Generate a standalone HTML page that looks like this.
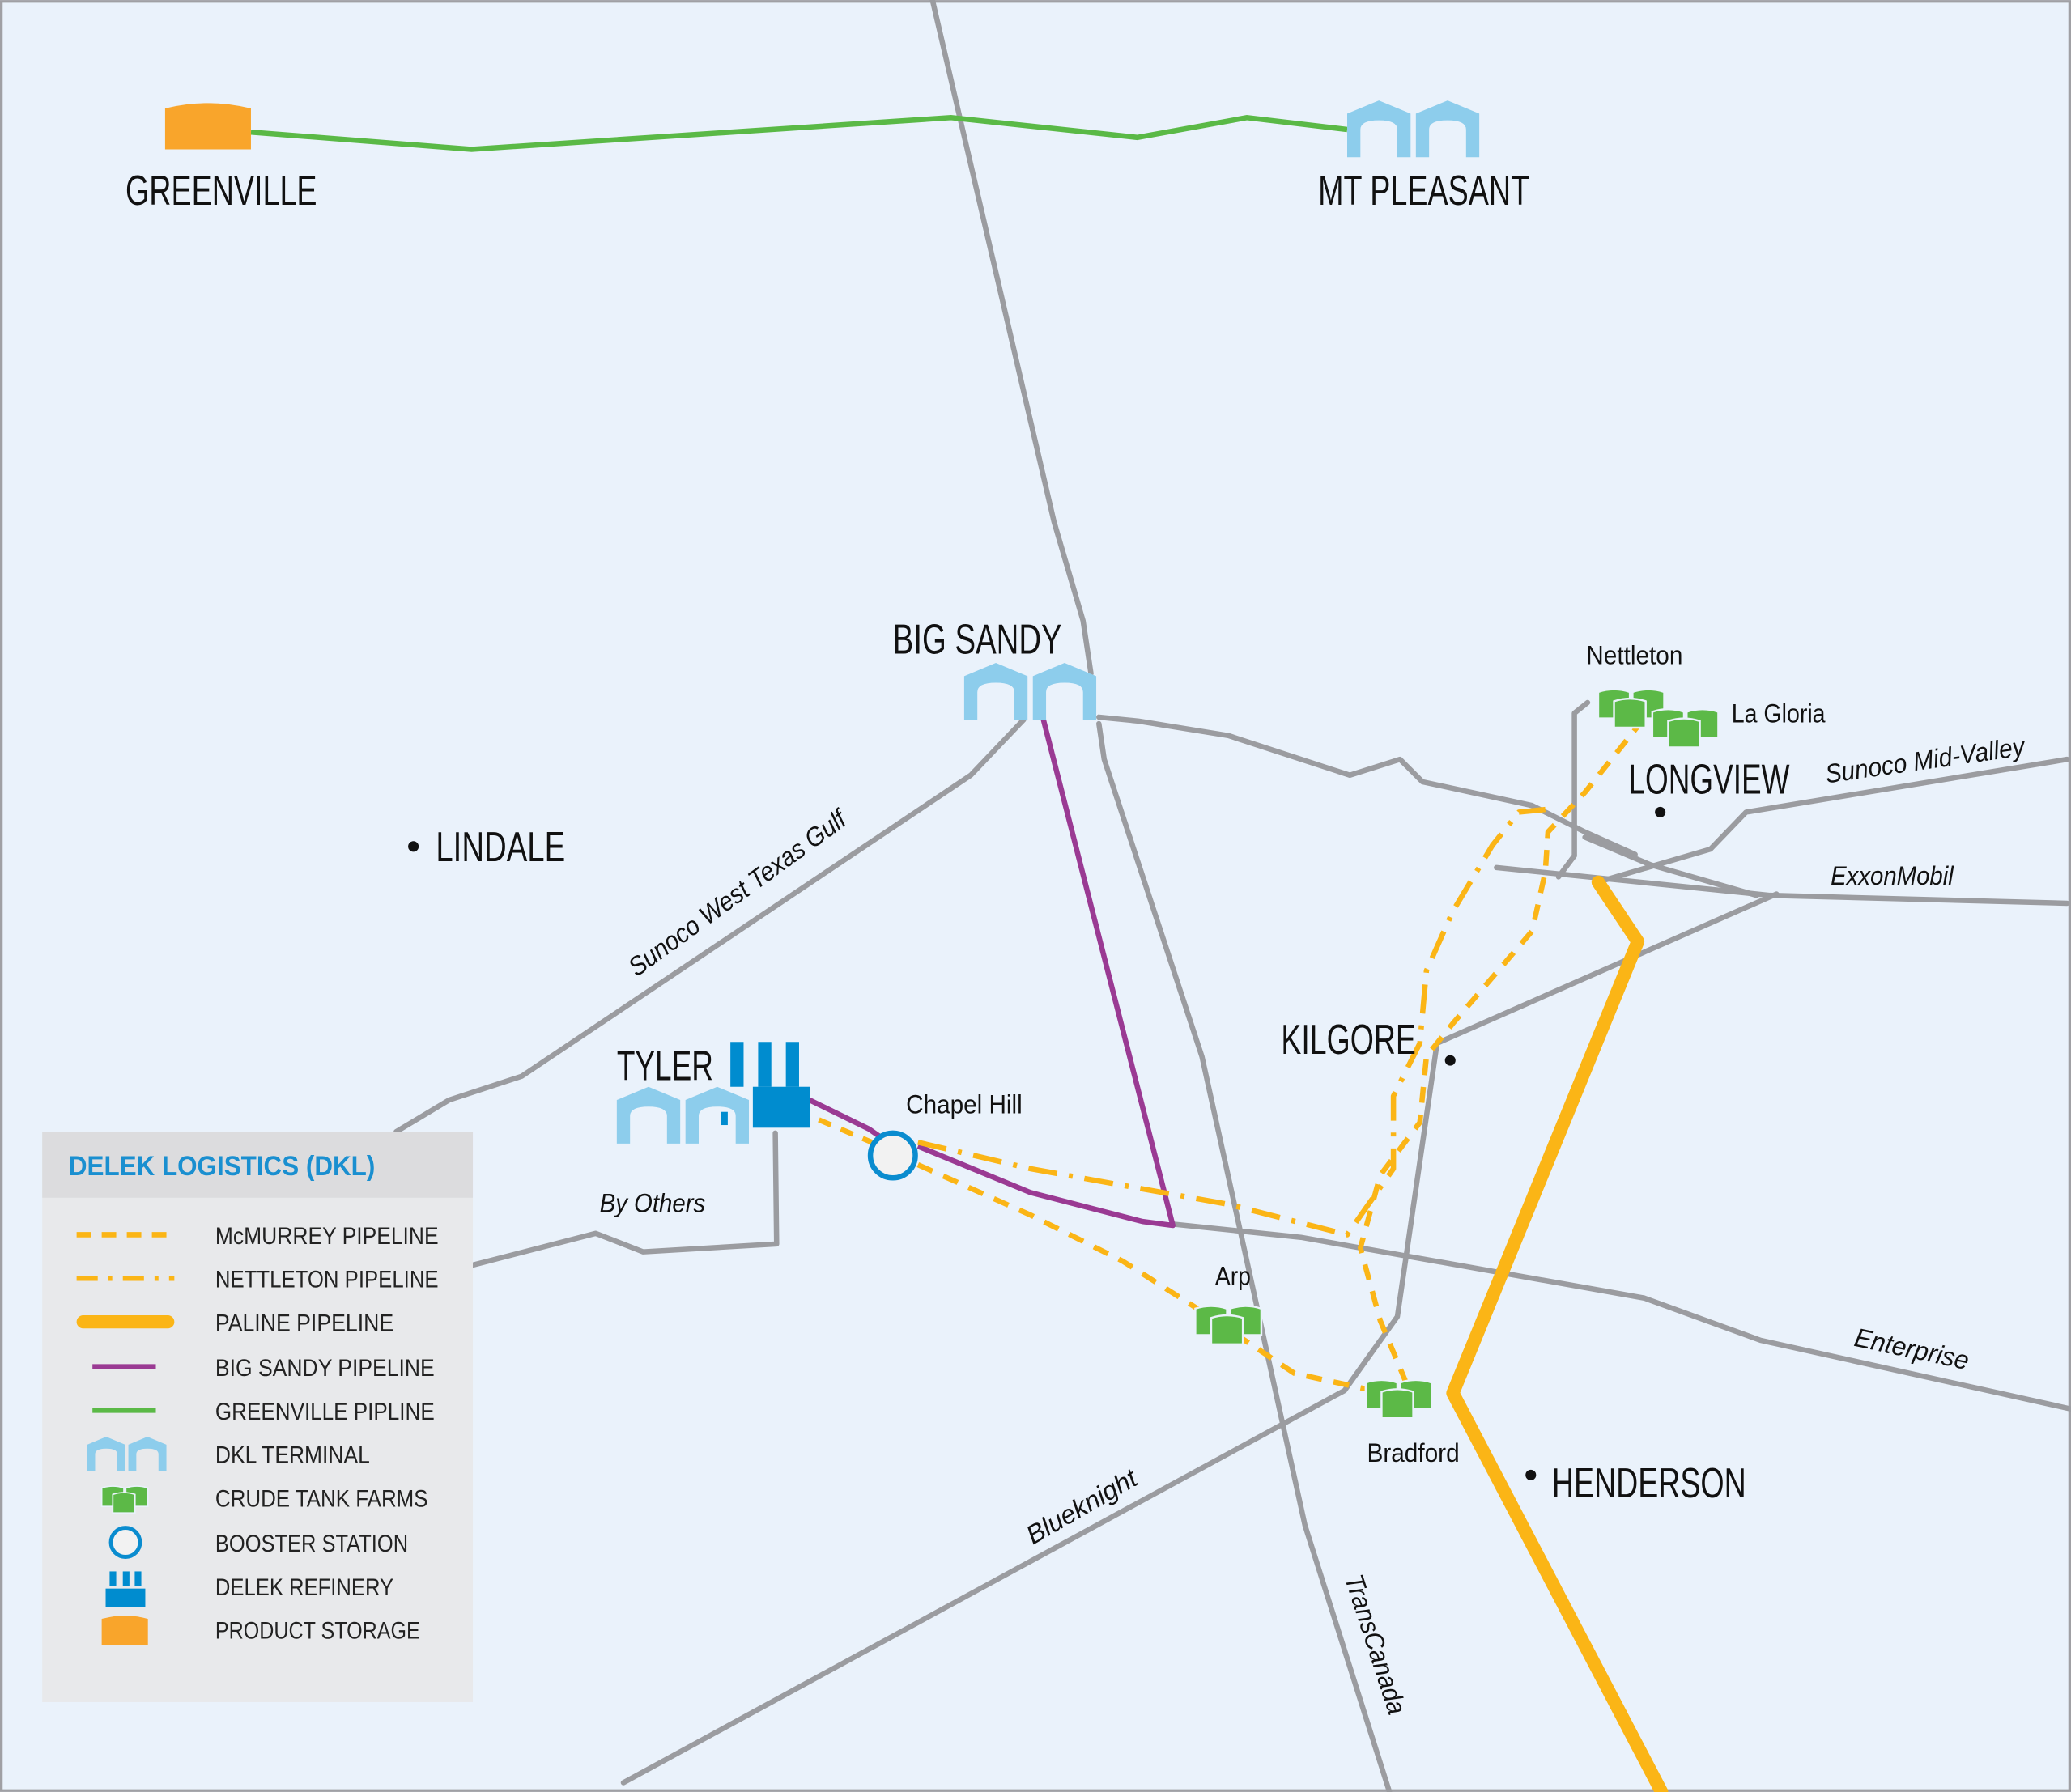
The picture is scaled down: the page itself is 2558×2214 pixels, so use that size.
<!DOCTYPE html>
<html><head><meta charset="utf-8"><style>
html,body{margin:0;padding:0;background:#eaf2fb}
svg{display:block}
text{font-family:"Liberation Sans Narrow","Liberation Sans",sans-serif;fill:#111}
.big{font-size:32px}
.sm{font-size:20px}
.it{font-style:italic;font-size:20px}
.lg{font-size:18px;fill:#222}
</style></head><body>
<svg width="2558" height="2214" viewBox="0 0 1568 1357" xmlns="http://www.w3.org/2000/svg">
<defs>
<path id="arch" d="M0,10 L24,0 L48,10 L48,43 L38,43 L38,22 Q38,15 24,15 Q10,15 10,22 L10,43 L0,43 Z" fill="#8dcdec"/>
<g id="term"><use href="#arch"/><use href="#arch" x="52"/></g>
<g id="tank"><path d="M0,4 Q12,0 24,4 L24,24 L0,24 Z" fill="#5cb947" stroke="#eaf2fb" stroke-width="1.5"/></g>
<g id="tanks"><use href="#tank" x="0" y="0"/><use href="#tank" x="26" y="0"/><use href="#tank" x="12" y="7"/></g>
</defs>
<rect x="1" y="1" width="1566" height="1355" fill="#eaf2fb" stroke="#a0a0a4" stroke-width="2"/>
<g fill="none" stroke="#9b9ca0" stroke-width="4" stroke-linejoin="round" stroke-linecap="round">
<polyline points="706,0 798,395 820,470 826,510"/>
<polyline points="832,548 836,575 910,800 988,1155 1052,1357"/>
<polyline points="775,545 735,587 395,815 340,833 300,857"/>
<polyline points="358,958 451,934 487,948 588,942 587,858"/>
<polyline points="832,543 862,546 930,557 1022,587 1060,575 1077,592 1160,610 1200,630 1238,647"/>
<polyline points="1133,657 1340,678 1565,684"/>
<polyline points="1200,634 1250,655 1330,678"/>
<polyline points="1213,667 1295,643 1322,615 1565,575"/>
<polyline points="1202,532 1192,540 1192,648 1180,664"/>
<polyline points="1345,677 1088,790 1058,997 1018,1053 472,1350"/>
<polyline points="888,927 985,937 1245,983 1333,1015 1568,1067"/>
</g>
<polyline points="190,100 357,113 720,89 861,104 944,89 1020,98" fill="none" stroke="#5ab946" stroke-width="4"/>
<g fill="none" stroke="#9a3a93" stroke-width="4" stroke-linejoin="round">
<polyline points="790,545 888,928 865,925 780,903 695,868"/>
<polyline points="613,833 658,855 668,862"/>
</g>
<g fill="none" stroke="#fbb516" stroke-width="4" stroke-linejoin="round">
<polyline stroke-dasharray="10,8" points="620,848 660,865"/>
<polyline stroke-dasharray="12,9" points="695,882 780,920 850,955 905,990 950,1020 980,1040 1035,1052"/>
<polyline stroke-dasharray="12,9" points="1065,1048 1045,1000 1030,945 1045,890 1075,850 1080,800 1100,775 1160,705 1170,660 1172,630 1200,600 1240,550"/>
<polyline stroke-dasharray="22,9,3,9" points="695,865 780,885 930,912 1020,935 1055,885 1055,830 1075,790 1080,735 1100,690 1130,640 1150,615 1170,613"/>
</g>
<polyline points="1210,668 1240,713 1100,1055 1258,1357" fill="none" stroke="#fbb516" stroke-width="10" stroke-linejoin="round" stroke-linecap="round"/>
<path d="M125,82 Q157,74 190,82 L190,113 L125,113 Z" fill="#f9a52b"/>
<use href="#term" x="1020" y="76"/>
<use href="#term" x="730" y="502"/>
<use href="#term" x="467" y="823"/>
<g fill="#008ccf">
<polygon points="553,789 563,789 563,823 553,823"/>
<polygon points="574,789 584,789 584,823 574,823"/>
<polygon points="595,789 605,789 605,823 595,823"/>
<rect x="570" y="823" width="43" height="31"/>
<rect x="546" y="842" width="5" height="10"/>
</g>
<circle cx="676" cy="875" r="17" fill="#f2f2f2" stroke="#0a8ccf" stroke-width="4"/>
<g transform="translate(1210,520)"><use href="#tanks"/></g>
<g transform="translate(1251,535)"><use href="#tanks"/></g>
<g transform="translate(905,987)"><use href="#tanks"/></g>
<g transform="translate(1034,1043)"><use href="#tanks"/></g>
<text class="big" x="95" y="155" textLength="145" lengthAdjust="spacingAndGlyphs">GREENVILLE</text>
<text class="big" x="998" y="155" textLength="160" lengthAdjust="spacingAndGlyphs">MT PLEASANT</text>
<text class="big" x="676" y="495" textLength="128" lengthAdjust="spacingAndGlyphs">BIG SANDY</text>
<circle cx="313" cy="641" r="4" fill="#111"/><text class="big" x="330" y="652" textLength="98" lengthAdjust="spacingAndGlyphs">LINDALE</text>
<text class="big" x="467" y="818" textLength="73" lengthAdjust="spacingAndGlyphs">TYLER</text>
<text class="sm" x="686" y="843" textLength="88" lengthAdjust="spacingAndGlyphs">Chapel Hill</text>
<text class="big" x="970" y="798" textLength="102" lengthAdjust="spacingAndGlyphs">KILGORE</text><circle cx="1098" cy="803" r="4" fill="#111"/>
<text class="big" x="1233" y="601" textLength="122" lengthAdjust="spacingAndGlyphs">LONGVIEW</text><circle cx="1257" cy="615" r="4" fill="#111"/>
<circle cx="1159" cy="1117" r="4" fill="#111"/><text class="big" x="1175" y="1134" textLength="147" lengthAdjust="spacingAndGlyphs">HENDERSON</text>
<text class="sm" x="1201" y="503" textLength="73" lengthAdjust="spacingAndGlyphs">Nettleton</text>
<text class="sm" x="1311" y="547" textLength="71" lengthAdjust="spacingAndGlyphs">La Gloria</text>
<text class="sm" x="920" y="973" textLength="27" lengthAdjust="spacingAndGlyphs">Arp</text>
<text class="sm" x="1035" y="1107" textLength="70" lengthAdjust="spacingAndGlyphs">Bradford</text>
<text class="it" transform="translate(482,740) rotate(-36)" textLength="198" lengthAdjust="spacingAndGlyphs">Sunoco West Texas Gulf</text>
<text class="it" x="454" y="918" textLength="80" lengthAdjust="spacingAndGlyphs">By Others</text>
<text class="it" transform="translate(1383,593) rotate(-8)" textLength="152" lengthAdjust="spacingAndGlyphs">Sunoco Mid-Valley</text>
<text class="it" x="1386" y="670" textLength="93" lengthAdjust="spacingAndGlyphs">ExxonMobil</text>
<text class="it" transform="translate(1403,1019) rotate(12)" textLength="88" lengthAdjust="spacingAndGlyphs">Enterprise</text>
<text class="it" transform="translate(782,1170) rotate(-30)" textLength="93" lengthAdjust="spacingAndGlyphs">Blueknight</text>
<text class="it" transform="translate(1018,1195) rotate(72)" textLength="110" lengthAdjust="spacingAndGlyphs">TransCanada</text>
<rect x="32" y="857" width="326" height="432" fill="#e8e9eb"/>
<rect x="32" y="857" width="326" height="50" fill="#dcdcde"/>
<text x="52" y="890" textLength="232" lengthAdjust="spacingAndGlyphs" style="font-size:21px;font-weight:bold;fill:#1a8fd0">DELEK LOGISTICS (DKL)</text>
<g fill="none" stroke="#fbb516">
<line x1="58" y1="935" x2="132" y2="935" stroke-width="4" stroke-dasharray="11,8"/>
<line x1="58" y1="968" x2="132" y2="968" stroke-width="4" stroke-dasharray="16,8,3,8"/>
<line x1="63" y1="1001" x2="127" y2="1001" stroke-width="10" stroke-linecap="round"/>
</g>
<line x1="70" y1="1035" x2="118" y2="1035" stroke="#9a3a93" stroke-width="4"/>
<line x1="70" y1="1068" x2="118" y2="1068" stroke="#5ab946" stroke-width="4"/>
<g transform="translate(66,1088) scale(0.6)"><use href="#term"/></g>
<g transform="translate(77,1124) scale(0.7)"><use href="#tanks"/></g>
<circle cx="95" cy="1168" r="11" fill="#f2f2f2" stroke="#0a8ccf" stroke-width="3"/>
<g fill="#008ccf"><rect x="83" y="1190" width="5" height="11"/><rect x="93" y="1190" width="5" height="11"/><rect x="102" y="1190" width="5" height="11"/><rect x="80" y="1203" width="30" height="14"/></g>
<path d="M77,1226 Q95,1221 112,1226 L112,1246 L77,1246 Z" fill="#f9a52b"/>
<text class="lg" x="163" y="942" textLength="169" lengthAdjust="spacingAndGlyphs">McMURREY PIPELINE</text>
<text class="lg" x="163" y="975" textLength="169" lengthAdjust="spacingAndGlyphs">NETTLETON PIPELINE</text>
<text class="lg" x="163" y="1008" textLength="135" lengthAdjust="spacingAndGlyphs">PALINE PIPELINE</text>
<text class="lg" x="163" y="1042" textLength="166" lengthAdjust="spacingAndGlyphs">BIG SANDY PIPELINE</text>
<text class="lg" x="163" y="1075" textLength="166" lengthAdjust="spacingAndGlyphs">GREENVILLE PIPLINE</text>
<text class="lg" x="163" y="1108" textLength="117" lengthAdjust="spacingAndGlyphs">DKL TERMINAL</text>
<text class="lg" x="163" y="1141" textLength="161" lengthAdjust="spacingAndGlyphs">CRUDE TANK FARMS</text>
<text class="lg" x="163" y="1175" textLength="146" lengthAdjust="spacingAndGlyphs">BOOSTER STATION</text>
<text class="lg" x="163" y="1208" textLength="135" lengthAdjust="spacingAndGlyphs">DELEK REFINERY</text>
<text class="lg" x="163" y="1241" textLength="155" lengthAdjust="spacingAndGlyphs">PRODUCT STORAGE</text>
</svg>
</body></html>
